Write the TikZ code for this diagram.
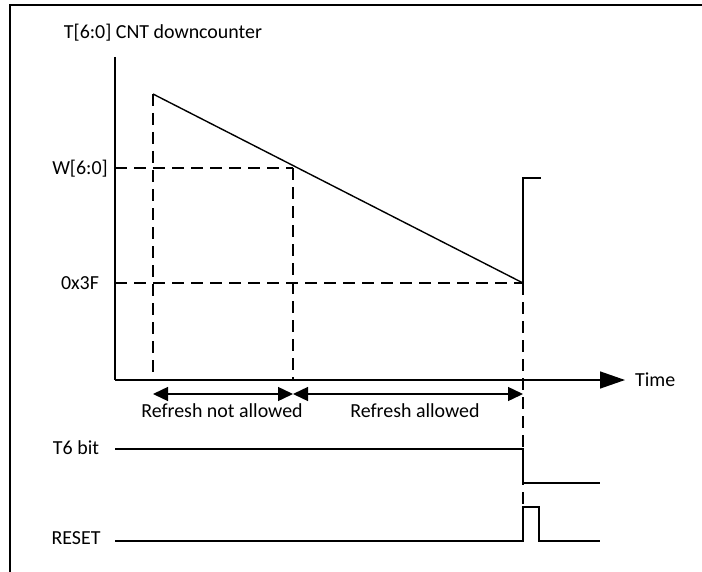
\documentclass[tikz,border=0pt]{standalone}
\usepackage{fontspec}
\setmainfont{Carlito}
\usepackage{tikz}
\usetikzlibrary{arrows.meta, positioning}

\begin{document}
\begin{tikzpicture}[x=1bp, y=-1bp, font=\fontsize{20}{24}\selectfont,
    every node/.style={inner sep=0pt},
    axis/.style={line width=1.4bp},
    guide/.style={line width=1.4bp, dash pattern=on 12bp off 7bp},
    signal/.style={line width=1.4bp},
    span/.style={line width=1.4bp, {Triangle[length=15bp,width=14bp]}-{Triangle[length=15bp,width=14bp]}}]
    \useasboundingbox (0,0) rectangle (702,572);
    % frame
    \draw[line width=2bp] (10,572) -- (10,5) -- (702,5);

    % axes
    \coordinate (O)    at (115,380);
    \coordinate (ytop) at (115,57);
    \coordinate (xend) at (625,380);
    \draw[axis] (ytop) -- (O);
    \draw[axis, -{Triangle[length=25bp,width=17bp]}] (O) -- (xend);

    \node (title) at (163,33)  {T[6:0] CNT downcounter};
    \node (wlbl)  at (80,169)  {W[6:0]};
    \node (hex)   at (80,283)  {0x3F};
    \node (time)  [right=10bp of xend] {Time};

    % counter ramp
    \coordinate (start) at (153,94);
    \coordinate (wcut)  at (293,168);
    \coordinate (stop)  at (523,283);
    \draw[signal] (start) -- (stop);
    \draw[signal] (stop) -- (523,178) -- (541,178);

    % dashed guides
    \draw[guide] (start) -- (start |- O);
    \draw[guide] (wcut) -- (wcut |- O);
    \draw[guide] (ytop |- wcut) -- (wcut);
    \draw[guide] (ytop |- stop) -- (stop);
    \draw[guide] (stop) -- (523,507);

    % windows
    \coordinate (w1) at (153,394);
    \coordinate (w2) at (293,394);
    \coordinate (w3) at (523,394);
    \draw[span] (w1) -- (w2);
    \draw[span] (w2) -- (w3);
    \node (notok) at (222,411) {Refresh not allowed};
    \node (ok)    at (415,411) {Refresh allowed};

    % T6 bit and reset
    \node (t6)  at (76,448) {T6 bit};
    \node (rst) at (76,538) {RESET};
    \draw[signal] (115,449) -- (523,449) -- (523,483) -- (600,483);
    \draw[signal] (115,541) -- (523,541) -- (523,507) -- (539,507) -- (539,541) -- (600,541);
\end{tikzpicture}
\end{document}
